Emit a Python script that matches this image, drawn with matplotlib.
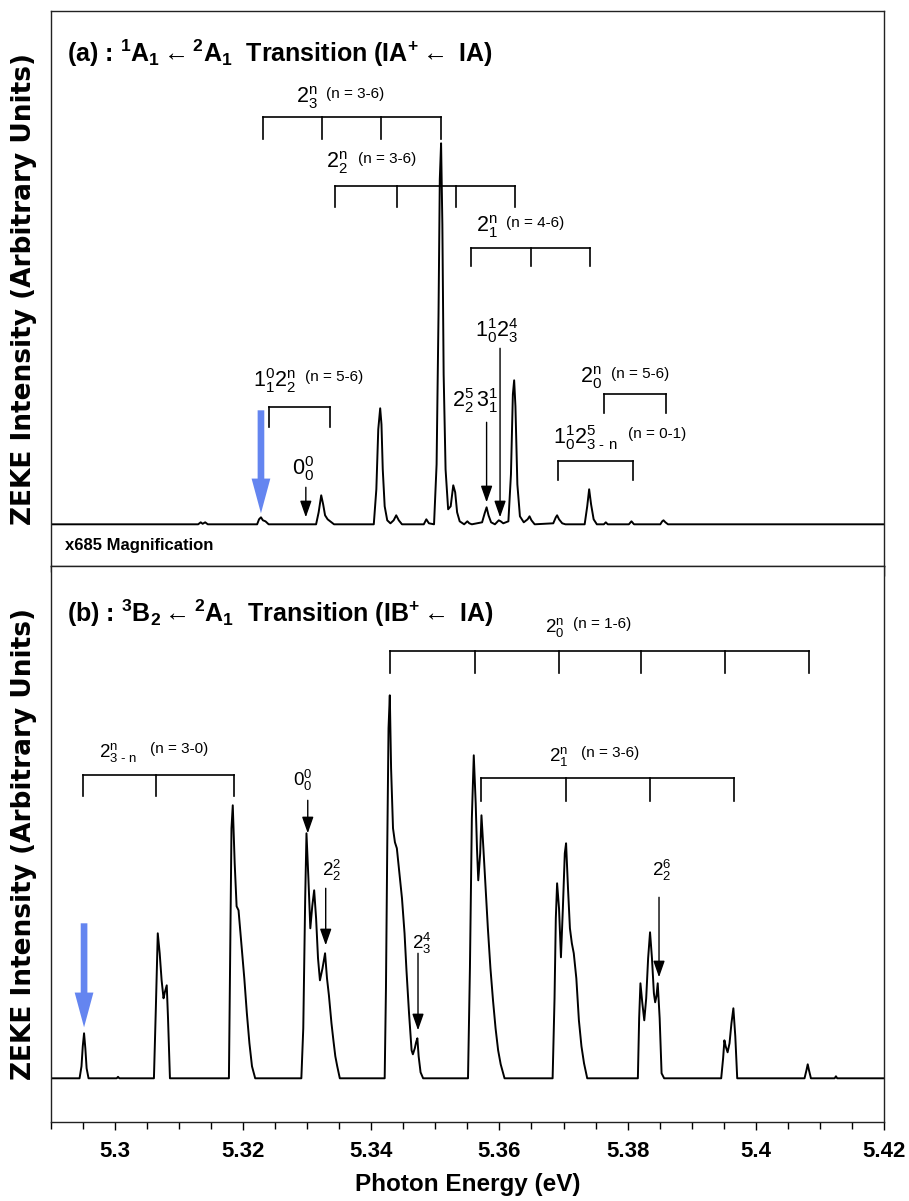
import matplotlib
matplotlib.use("Agg")
import matplotlib.pyplot as plt
from matplotlib.ticker import MultipleLocator, FormatStrFormatter

plt.rcParams["font.family"] = ["Liberation Sans", "DejaVu Sans"]
plt.rcParams["mathtext.fontset"] = "custom"
plt.rcParams["mathtext.rm"] = "Liberation Sans"
plt.rcParams["mathtext.it"] = "Liberation Sans"
plt.rcParams["mathtext.bf"] = "Liberation Sans:bold"

# ---- panel (a) trace: photon energy (eV) / intensity (arb.)
energy_a = [5.2900, 5.3130, 5.3134, 5.3137, 5.3141, 5.3145, 5.3222, 5.3225, 5.3228,
            5.3231, 5.3235, 5.3240, 5.3314, 5.3318, 5.3322, 5.3325, 5.3328, 5.3332,
            5.3336, 5.3342, 5.3404, 5.3408, 5.3411, 5.3414, 5.3416, 5.3418, 5.3421,
            5.3425, 5.3430, 5.3435, 5.3439, 5.3443, 5.3448, 5.3482, 5.3486, 5.3490,
            5.3498, 5.3502, 5.3505, 5.3507, 5.3509, 5.3511, 5.3513, 5.3516, 5.3520,
            5.3524, 5.3528, 5.3531, 5.3534, 5.3538, 5.3545, 5.3550, 5.3553, 5.3557,
            5.3573, 5.3577, 5.3580, 5.3583, 5.3587, 5.3593, 5.3599, 5.3602, 5.3606,
            5.3614, 5.3618, 5.3621, 5.3623, 5.3625, 5.3628, 5.3632, 5.3638, 5.3644,
            5.3647, 5.3650, 5.3655, 5.3684, 5.3688, 5.3690, 5.3693, 5.3698, 5.3703,
            5.3733, 5.3737, 5.3740, 5.3743, 5.3747, 5.3752, 5.3763, 5.3766, 5.3769,
            5.3802, 5.3806, 5.3810, 5.3851, 5.3854, 5.3856, 5.3859, 5.3863, 5.4200]
inten_a = [0, 0, 2, 0.5, 2, 0, 0, 5, 7,
           4, 3, 0, 0, 12, 29, 20, 9, 5,
           3, 0, 0, 35, 95, 116, 100, 55, 18,
           4, 1, 4, 9, 4, 0, 0, 5, 1,
           0, 60, 210, 345, 381, 300, 150, 55, 15,
           18, 39, 32, 12, 3, 0, 3, 1, 0,
           2, 11, 17, 9, 2, 0, 4, 3, 1,
           3, 50, 130, 144, 118, 40, 8, 2, 5,
           8, 4, 0, 1, 7, 9, 5, 1, 0,
           0, 18, 35, 20, 5, 0, 0, 2, 0,
           0, 3, 0, 0, 3, 4, 2, 0, 0]

# ---- panel (b) trace
energy_b = [5.2900, 5.2945, 5.2948, 5.2950, 5.2952, 5.2954, 5.2956, 5.2959, 5.3003,
            5.3005, 5.3007, 5.3061, 5.3064, 5.3067, 5.3070, 5.3073, 5.3076, 5.3078,
            5.3081, 5.3083, 5.3086, 5.3178, 5.3180, 5.3182, 5.3184, 5.3187, 5.3190,
            5.3193, 5.3196, 5.3198, 5.3202, 5.3206, 5.3210, 5.3214, 5.3219, 5.3291,
            5.3294, 5.3297, 5.3299, 5.3302, 5.3305, 5.3308, 5.3311, 5.3314, 5.3317,
            5.3320, 5.3324, 5.3328, 5.3331, 5.3334, 5.3338, 5.3341, 5.3344, 5.3347,
            5.3351, 5.3421, 5.3423, 5.3425, 5.3427, 5.3429, 5.3431, 5.3434, 5.3437,
            5.3440, 5.3444, 5.3448, 5.3452, 5.3455, 5.3459, 5.3463, 5.3465, 5.3468,
            5.3470, 5.3472, 5.3474, 5.3477, 5.3481, 5.3551, 5.3554, 5.3557, 5.3560,
            5.3563, 5.3565, 5.3567, 5.3570, 5.3572, 5.3575, 5.3578, 5.3582, 5.3586,
            5.3590, 5.3594, 5.3598, 5.3602, 5.3608, 5.3683, 5.3686, 5.3688, 5.3690,
            5.3693, 5.3696, 5.3699, 5.3702, 5.3704, 5.3707, 5.3710, 5.3713, 5.3716,
            5.3720, 5.3724, 5.3728, 5.3732, 5.3737, 5.3816, 5.3818, 5.3820, 5.3823,
            5.3826, 5.3829, 5.3832, 5.3835, 5.3838, 5.3841, 5.3843, 5.3845, 5.3847,
            5.3850, 5.3853, 5.3857, 5.3946, 5.3949, 5.3951, 5.3953, 5.3956, 5.3959,
            5.3962, 5.3965, 5.3968, 5.3971, 5.4076, 5.4079, 5.4081, 5.4083, 5.4086,
            5.4123, 5.4125, 5.4127, 5.4200]
inten_b = [0, 0, 12, 32, 45, 30, 10, 0, 0,
           1.5, 0, 0, 70, 145, 125, 98, 80, 86,
           93, 60, 0, 0, 120, 250, 273, 215, 172,
           168, 145, 131, 100, 65, 35, 12, 0, 0,
           50, 180, 245, 200, 150, 172, 188, 160, 120,
           98, 110, 125, 100, 83, 55, 38, 22, 12,
           0, 0, 90, 230, 350, 383, 310, 250, 236,
           230, 205, 180, 145, 108, 65, 28, 24, 30,
           36, 40, 22, 6, 0, 0, 110, 260, 323,
           275, 230, 198, 225, 263, 230, 195, 150, 110,
           78, 50, 28, 14, 0, 0, 80, 160, 195,
           170, 121, 170, 225, 235, 190, 150, 135, 125,
           100, 58, 32, 15, 0, 0, 60, 95, 75,
           58, 80, 120, 146, 120, 85, 76, 82, 95,
           60, 5, 0, 0, 20, 38, 32, 26, 35,
           55, 70, 42, 0, 0, 8, 14, 8, 0,
           0, 2, 0, 0]

YLABEL = "ZEKE Intensity (Arbitrary Units)"
TITLE_A = r"(a) : $\mathbf{{}^{1}A_{1}}\leftarrow\mathbf{{}^{2}A_{1}}$  Transition (IA$\mathbf{{}^{+}}\leftarrow$ IA)"
TITLE_B = r"(b) : $\mathbf{{}^{3}B_{2}}\leftarrow\mathbf{{}^{2}A_{1}}$  Transition (IB$\mathbf{{}^{+}}\leftarrow$ IA)"

# progression brackets: (tick energies, bar height, tick bottom, label, label x, label y, range text, range x)
brackets_a = [
    ([5.3231, 5.3324, 5.3415, 5.3509], 407, 385, r"$2^{n}_{3}$", 5.3282, 427, "(n = 3-6)", 5.3329),
    ([5.3344, 5.3440, 5.3533, 5.3624], 338, 317, r"$2^{n}_{2}$", 5.3329, 362, "(n = 3-6)", 5.3380),
    ([5.3556, 5.3650, 5.3741], 276, 258, r"$2^{n}_{1}$", 5.3563, 298, "(n = 4-6)", 5.3611),
    ([5.3241, 5.3335], 117, 97, r"$1^{0}_{1}2^{n}_{2}$", 5.3215, 144, "(n = 5-6)", 5.3296),
    ([5.3763, 5.3860], 130, 111, r"$2^{n}_{0}$", 5.3726, 147, "(n = 5-6)", 5.3774),
    ([5.3692, 5.3809], 63, 44, r"$1^{1}_{0}2^{5}_{3\text{ - }n}$", 5.3684, 87, "(n = 0-1)", 5.3801),
]
brackets_b = [
    ([5.3430, 5.3562, 5.3693, 5.3821, 5.3952, 5.4083], 427, 405, r"$2^{n}_{0}$", 5.3671, 451, "(n = 1-6)", 5.3715),
    ([5.2950, 5.3065, 5.3186], 303, 282, r"$2^{n}_{3\text{ - }n}$", 5.2975, 326, "(n = 3-0)", 5.3055),
    ([5.3572, 5.3704, 5.3835, 5.3966], 300, 277, r"$2^{n}_{1}$", 5.3677, 322, "(n = 3-6)", 5.3728),
]

# single assignments: (label, label x, label y, arrow x, arrow top, arrow tip)
arrows_a = [
    (r"$0^{0}_{0}$", 5.3276, 56, 5.3298, 37, 7),
    (r"$2^{5}_{2}\,3^{1}_{1}$", 5.3526, 124, 5.3580, 102, 22),
    (r"$1^{1}_{0}2^{4}_{3}$", 5.3562, 194, 5.3601, 176, 7),
]
arrows_b = [
    (r"$0^{0}_{0}$", 5.3278, 298, 5.3301, 278, 245),
    (r"$2^{2}_{2}$", 5.3323, 208, 5.3329, 190, 133),
    (r"$2^{4}_{3}$", 5.3463, 135, 5.3473, 125, 48),
    (r"$2^{6}_{2}$", 5.3838, 208, 5.3849, 181, 101),
]
# blue origin markers: (x, top, tip)
blue_a = (5.3228, 114, 11)
blue_b = (5.2952, 155, 51)

BLUE = "#6485f0"

fig = plt.figure(figsize=(9.09, 12.01), dpi=100)
ax_a = fig.add_axes([0.0558, 0.52872, 0.9167, 0.46212])
ax_b = fig.add_axes([0.0558, 0.06603, 0.9167, 0.46269])


def draw_panel(ax, energy, inten, brackets, arrows, blue, lab_size, ylim):
    ax.plot(energy, inten, color="black", lw=1.4)
    for ticks, top, bot, lab, lx, ly, rng, rx in brackets:
        ax.plot([ticks[0], ticks[-1]], [top, top], color="black", lw=1.2)
        for t in ticks:
            ax.plot([t, t], [top, bot], color="black", lw=1.2)
        ax.text(lx, ly, lab, fontsize=lab_size, ha="left", va="center")
        ax.text(rx, ly + 3, rng, fontsize=11, ha="left", va="center")
    for lab, lx, ly, x, top, tip in arrows:
        ax.text(lx, ly, lab, fontsize=lab_size, ha="left", va="center")
        ax.annotate("", xy=(x, tip), xytext=(x, top),
                    arrowprops=dict(arrowstyle="-|>,head_length=1.0,head_width=0.35",
                                    color="black", lw=1.0, shrinkA=0, shrinkB=0))
    bx, btop, btip = blue
    ax.annotate("", xy=(bx, btip), xytext=(bx, btop),
                arrowprops=dict(width=4.8, headwidth=13.5, headlength=25,
                                shrink=0, color=BLUE, lw=0))
    ax.set_xlim(5.29, 5.42)
    ax.set_ylim(*ylim)
    ax.set_yticks([])
    ax.xaxis.set_major_locator(MultipleLocator(0.02))
    ax.xaxis.set_minor_locator(MultipleLocator(0.005))
    ax.xaxis.set_major_formatter(FormatStrFormatter("%g"))
    ax.set_ylabel(YLABEL, family="DejaVu Sans", fontweight="bold", fontsize=19)
    ax.yaxis.set_label_coords(-0.017, 0.5)
    for s in ax.spines.values():
        s.set_linewidth(1.0)
        s.set_color("#222222")


draw_panel(ax_a, energy_a, inten_a, brackets_a, arrows_a, blue_a, 15.5, (-41.7, 513.3))
draw_panel(ax_b, energy_b, inten_b, brackets_b, arrows_b, blue_b, 13.5, (-43.4, 512.3))

ax_a.text(5.2925, 471, TITLE_A, fontsize=18, fontweight="bold", ha="left", va="center")
ax_b.text(5.2925, 465, TITLE_B, fontsize=18, fontweight="bold", ha="left", va="center")
ax_a.text(5.2923, -21, "x685 Magnification", fontsize=12, fontweight="bold",
          ha="left", va="center")

ax_a.tick_params(axis="x", which="both", direction="out", labelbottom=False)
ax_a.tick_params(axis="x", which="major", length=7, width=1)
ax_a.tick_params(axis="x", which="minor", length=4, width=1)
ax_b.tick_params(axis="x", which="both", direction="out")
ax_b.tick_params(axis="x", which="major", length=6, width=1, pad=8)
ax_b.tick_params(axis="x", which="minor", length=5, width=1)
for lbl in ax_b.get_xticklabels():
    lbl.set_fontweight("bold")
    lbl.set_fontsize(16)
ax_b.set_xlabel("Photon Energy (eV)", fontsize=17.5, fontweight="bold", labelpad=8)

fig.savefig("out.png", dpi=100)
